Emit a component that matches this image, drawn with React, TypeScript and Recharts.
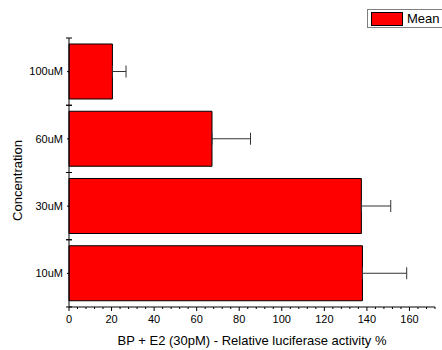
import {
  BarChart,
  Bar,
  XAxis,
  YAxis,
  ErrorBar,
} from "recharts";

const concentrations = ["100uM", "60uM", "30uM", "10uM"];
const meanValues = [20.4, 67.2, 137.4, 137.9];
const errorValues = [6.4, 18.1, 13.8, 20.8];
const seriesName = "Mean";

const majorTicks = [0, 20, 40, 60, 80, 100, 120, 140, 160];
const xMax = 172;
const minorStep = 4;
const allTicks = Array.from({ length: xMax / minorStep + 1 }, (_, i) => i * minorStep);

const data = concentrations.map((conc, i) => ({
  conc,
  mean: meanValues[i],
  err: [0, errorValues[i]],
}));

const font = "'Liberation Sans', Arial, sans-serif";

const XTick = (props: any) => {
  const { x, y, payload } = props;
  const isMajor = majorTicks.includes(payload.value);
  return (
    <g>
      <line x1={x} x2={x} y1={y} y2={y + (isMajor ? 4 : 2)} stroke="#000" />
      {isMajor && (
        <text
          x={x}
          y={y + 8}
          dy="0.71em"
          textAnchor="middle"
          fontSize={11}
          fontFamily={font}
          fill="#000"
        >
          {payload.value}
        </text>
      )}
    </g>
  );
};

const YTick = (props: any) => {
  const { x, y, payload } = props;
  const half = payload.offset ?? 0;
  const ax = x + 6;
  return (
    <g>
      <line x1={ax - 3} x2={ax + 3} y1={y - half} y2={y - half} stroke="#000" />
      <line x1={ax - 3} x2={ax + 3} y1={y + half} y2={y + half} stroke="#000" />
      <line x1={ax - 2} x2={ax} y1={y} y2={y} stroke="#000" />
      <text
        x={x}
        y={y}
        dy="0.35em"
        textAnchor="end"
        fontSize={11}
        fontFamily={font}
        fill="#000"
      >
        {payload.value}
      </text>
    </g>
  );
};

const YLabel = (props: any) => {
  const vb = props.viewBox || { x: 0, y: 38, width: 69, height: 269 };
  const cx = vb.x + 17;
  const cy = vb.y + vb.height / 2 + 8;
  return (
    <text
      x={cx}
      y={cy}
      transform={`rotate(-90, ${cx}, ${cy})`}
      textAnchor="middle"
      dy="0.35em"
      fontSize={13}
      fontFamily={font}
      fill="#000"
    >
      Concentration
    </text>
  );
};

// legend box sits at the top right and runs off the edge, like the original
const LegendBox = () => (
  <div
    style={{
      position: "absolute",
      left: 367,
      top: 9,
      display: "flex",
      alignItems: "center",
      border: "1px solid #808080",
      height: 17,
      width: 110,
      paddingLeft: 3,
      fontFamily: font,
      fontSize: 13,
      color: "#000",
      background: "#fff",
      whiteSpace: "nowrap",
    }}
  >
    <div
      style={{
        width: 30,
        height: 12,
        flexShrink: 0,
        background: "#ff0000",
        border: "1px solid #000",
        marginRight: 4,
      }}
    />
    <span>{seriesName}</span>
  </div>
);

export default function App() {
  return (
    <div style={{ width: 442, height: 350, overflow: "hidden", position: "relative", background: "#fff" }}>
      <style>{"body{margin:0}"}</style>
      <BarChart
        width={442}
        height={350}
        data={data}
        layout="vertical"
        margin={{ top: 38, right: 7, bottom: 0, left: 0 }}
        barCategoryGap={6}
      >
        <XAxis
          type="number"
          domain={[0, xMax]}
          ticks={allTicks}
          interval={0}
          height={43}
          tickSize={0}
          tickMargin={0}
          tick={<XTick />}
          axisLine={{ stroke: "#000" }}
          label={{
            value: "BP + E2 (30pM) - Relative luciferase activity %",
            position: "insideBottom",
            offset: 5,
            fontSize: 13,
            fontFamily: font,
            fill: "#000",
          }}
        />
        <YAxis
          type="category"
          dataKey="conc"
          width={69}
          interval={0}
          tickSize={0}
          tickMargin={6}
          tick={<YTick />}
          axisLine={{ stroke: "#000" }}
          label={<YLabel />}
        />
        <Bar
          dataKey="mean"
          name={seriesName}
          fill="#ff0000"
          stroke="#000"
          strokeWidth={1}
          isAnimationActive={false}
        >
          <ErrorBar
            dataKey="err"
            direction="x"
            width={6}
            stroke="#333"
            strokeWidth={1}
            isAnimationActive={false}
          />
        </Bar>
      </BarChart>
      <LegendBox />
    </div>
  );
}
